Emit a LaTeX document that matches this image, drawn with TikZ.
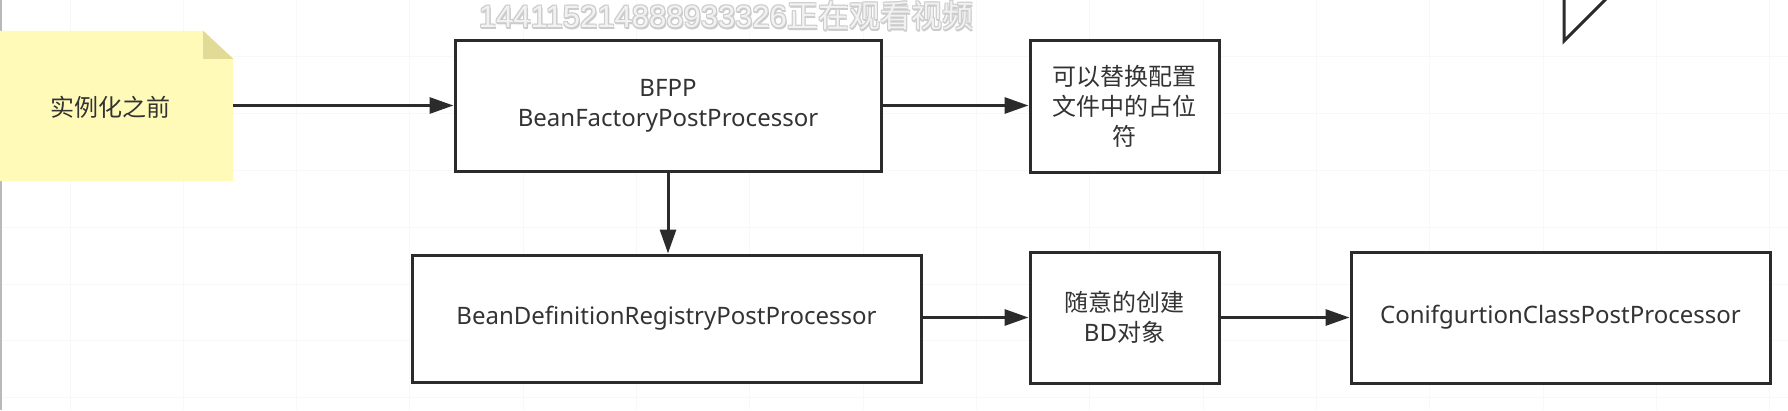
\documentclass[tikz,border=0pt]{standalone}
\usepackage{fontspec}
\setmainfont{Noto Sans}
\newfontfamily\cjk{Noto Sans CJK SC}
\newfontfamily\wmfont{Liberation Sans}
\usetikzlibrary{arrows.meta}
\definecolor{linecol}{HTML}{2B2B2B}
\definecolor{textcol}{HTML}{333333}
\definecolor{notefill}{HTML}{FFFAB8}
\definecolor{foldfill}{HTML}{E2DB98}
\definecolor{gridcol}{HTML}{F8F8F8}
\tikzset{
  box/.style={draw=linecol, line width=3pt, fill=white, inner sep=0pt, align=center,
    text=textcol, font=\fontsize{24}{30}\selectfont},
  conn/.style={draw=linecol, line width=3pt, -{Triangle[length=24pt,width=16pt]}},
  wmtext/.style={font=\wmfont\fontsize{31}{31}\selectfont, inner sep=0pt},
}
\begin{document}
\begin{tikzpicture}[x=1pt,y=-1pt]
\useasboundingbox (0,0) rectangle (1788,410);
\fill[white] (0,0) rectangle (1788,410);
% faint grid
\foreach \k in {0,...,15} {\draw[gridcol, line width=1pt] ({70+113.33*\k},0) -- ({70+113.33*\k},410);}
\foreach \k in {1,...,7} {\draw[gridcol, line width=1pt] (0,{56.8*\k}) -- (1788,{56.8*\k});}
% left window edge
\draw[gray!55, line width=2pt] (1,0) -- (1,410);
% note
\node[inner sep=0pt, minimum width=233pt, minimum height=150pt] (note) at (116.5,106) {};
\fill[notefill] (note.north west) -- ([xshift=-30pt]note.north east) -- ([yshift=-28pt]note.north east)
  -- (note.south east) -- (note.south west) -- cycle;
\fill[foldfill] ([xshift=-30pt]note.north east) -- ([xshift=-30pt,yshift=-28pt]note.north east)
  -- ([yshift=-28pt]note.north east) -- cycle;
\node[text=textcol, font=\cjk\fontsize{24}{30}\selectfont] (notelabel) at (110,107) {实例化之前};
% boxes
\node[box, minimum width=426pt, minimum height=131pt] (bfpp) at (668,105.5) {BFPP\\BeanFactoryPostProcessor};
\node[box, minimum width=189pt, minimum height=132pt] (repl) at (1124.5,106)
  {{\cjk 可以替换配置}\\{\cjk 文件中的占位}\\{\cjk 符}};
\node[box, minimum width=509pt, minimum height=127pt] (bdrpp) at (666.5,318.5) {BeanDefinitionRegistryPostProcessor};
\node[box, minimum width=189pt, minimum height=131pt] (bd) at (1124.5,317.5)
  {{\cjk 随意的创建}\\BD{\cjk 对象}};
\node[box, minimum width=419pt, minimum height=131pt] (ccpp) at (1560.5,317.5) {ConifgurtionClassPostProcessor};
% connectors
\draw[conn] (note.east |- bfpp.west) -- (bfpp.west);
\draw[conn] (bfpp.east) -- (bfpp.east -| repl.west);
\draw[conn] (bfpp.south) -- (bfpp.south |- bdrpp.north);
\draw[conn] (bd.west -| bdrpp.east) -- (bd.west);
\draw[conn] (bd.east) -- (ccpp.west);
% partial triangle at top right
\draw[linecol, line width=3pt, line join=miter] (1607,-2) -- (1564,41) -- (1564,-2);
% watermark
\foreach \dx/\dy [count=\i] in {1.5/1.5, -1/1, 1/-1, -1/-1, 0/2} {
  \node[wmtext, text=gray!40] (wms\i) at ({726+\dx},{16+\dy}) {144115214888933326{\cjk 正在观看视频}};
}
\node[wmtext, text=white!95!black] (wm) at (726,16) {144115214888933326{\cjk 正在观看视频}};
\end{tikzpicture}
\end{document}
